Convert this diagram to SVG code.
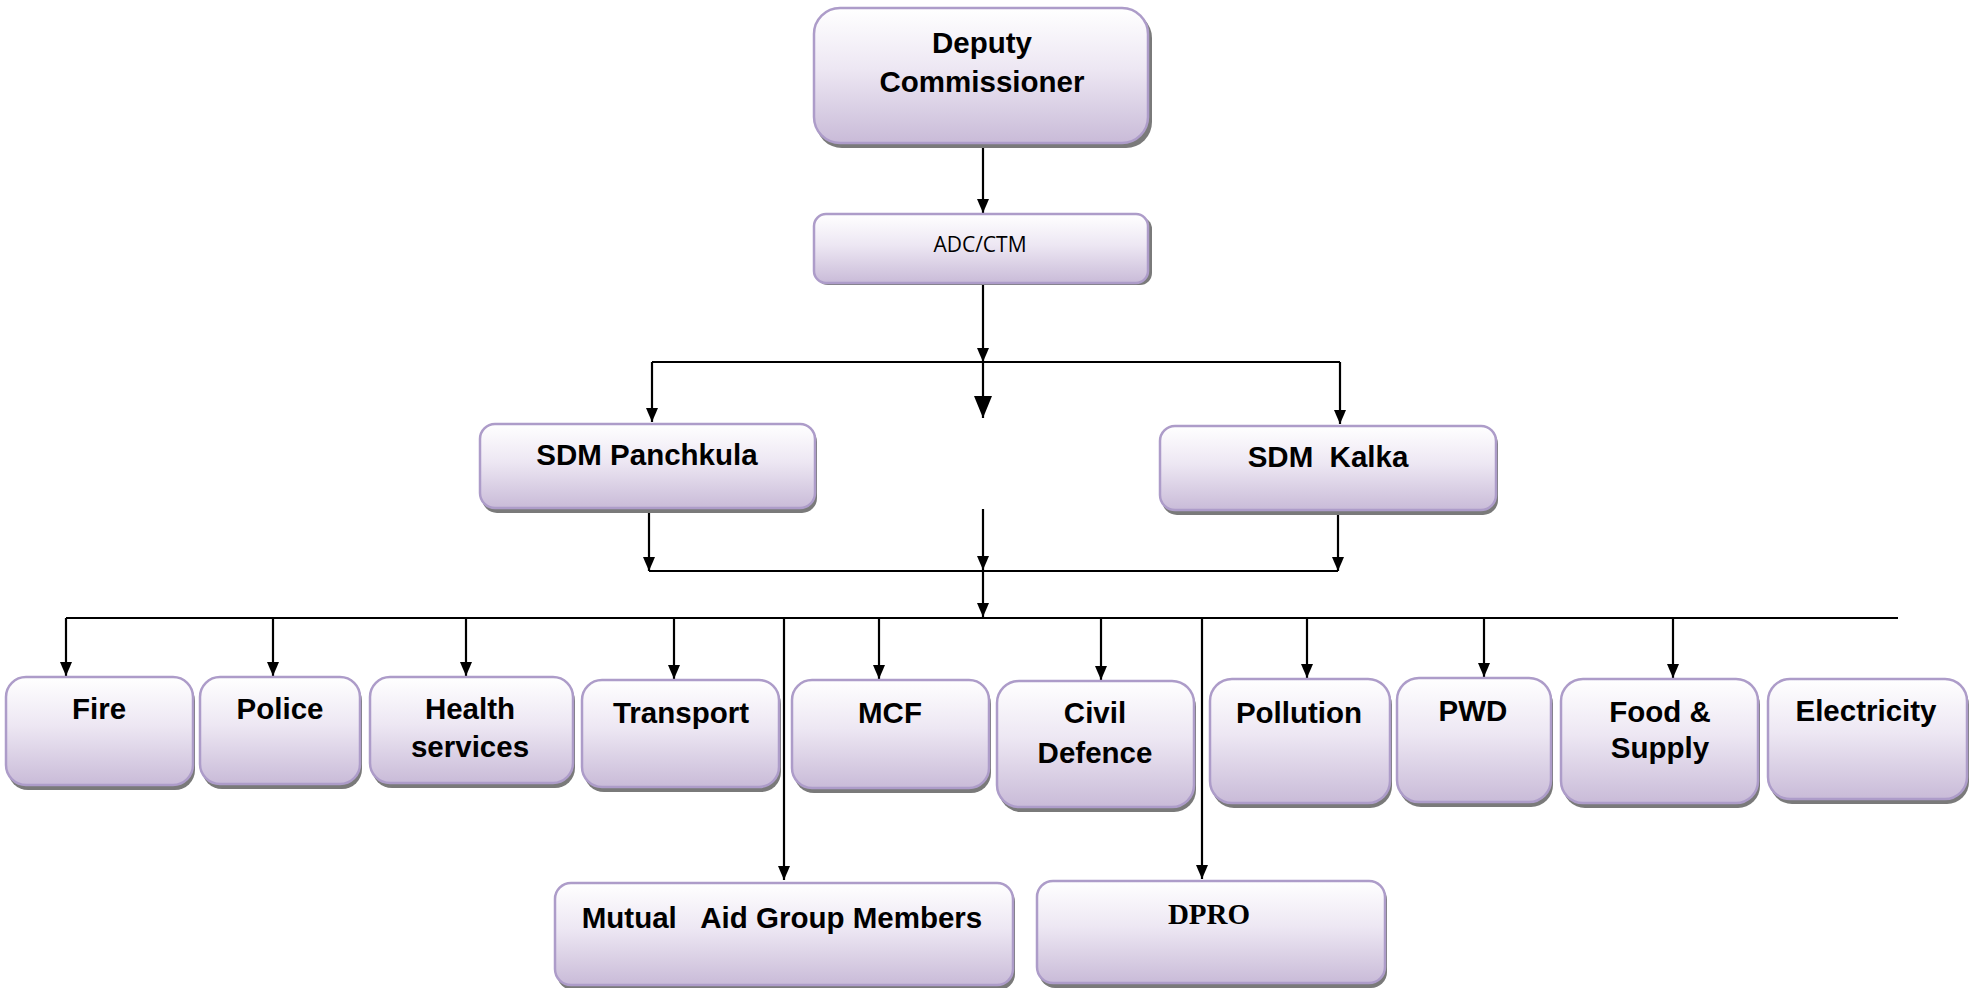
<svg xmlns="http://www.w3.org/2000/svg" width="1979" height="988" viewBox="0 0 1979 988">
<defs>
<linearGradient id="g" x1="0" y1="0" x2="0" y2="1">
<stop offset="0" stop-color="#ffffff"/>
<stop offset="0.45" stop-color="#ede7f3"/>
<stop offset="1" stop-color="#c9bbd8"/>
</linearGradient>
<marker id="a" markerWidth="12" markerHeight="14" refX="6" refY="14" markerUnits="userSpaceOnUse" viewBox="0 0 12 14">
<path d="M0,0 L12,0 L6,14 Z" fill="#000"/>
</marker>
<marker id="ab" markerWidth="18" markerHeight="22" refX="9" refY="22" markerUnits="userSpaceOnUse" viewBox="0 0 18 22">
<path d="M0,0 L18,0 L9,22 Z" fill="#000"/>
</marker>
</defs>
<style>
.box{fill:url(#g);stroke:#ad9cc9;stroke-width:2.5}
.sh{fill:#7a7a7a}
.t{font-family:"Liberation Sans",Arial,sans-serif;font-weight:bold;font-size:29.5px;text-anchor:middle;fill:#000}
.c{stroke:#000;stroke-width:2.2;fill:none}
.ar{marker-end:url(#a)}
</style>
<rect width="1979" height="988" fill="#fff"/>
<g id="connectors">
<line class="c ar" x1="983" y1="143" x2="983" y2="213"/>
<line class="c ar" x1="983" y1="283" x2="983" y2="362"/>
<line class="c" x1="652" y1="362" x2="1340" y2="362"/>
<line class="c ar" x1="652" y1="362" x2="652" y2="422"/>
<line class="c ar" x1="1340" y1="362" x2="1340" y2="424"/>
<line class="c" x1="983" y1="362" x2="983" y2="418" marker-end="url(#ab)"/>
<line class="c ar" x1="983" y1="509" x2="983" y2="570"/>
<line class="c ar" x1="649" y1="508" x2="649" y2="571"/>
<line class="c ar" x1="1338" y1="510" x2="1338" y2="571"/>
<line class="c" x1="649" y1="571" x2="1338" y2="571"/>
<line class="c ar" x1="983" y1="571" x2="983" y2="617"/>
<line class="c" x1="66" y1="618" x2="1898" y2="618"/>
<line class="c ar" x1="66" y1="618" x2="66" y2="676"/>
<line class="c ar" x1="273" y1="618" x2="273" y2="676"/>
<line class="c ar" x1="466" y1="618" x2="466" y2="676"/>
<line class="c ar" x1="674" y1="618" x2="674" y2="679"/>
<line class="c ar" x1="879" y1="618" x2="879" y2="679"/>
<line class="c ar" x1="1101" y1="618" x2="1101" y2="680"/>
<line class="c ar" x1="1307" y1="618" x2="1307" y2="678"/>
<line class="c ar" x1="1484" y1="618" x2="1484" y2="677"/>
<line class="c ar" x1="1673" y1="618" x2="1673" y2="678"/>
<line class="c ar" x1="784" y1="618" x2="784" y2="880"/>
<line class="c ar" x1="1202" y1="618" x2="1202" y2="879"/>
</g>
<g id="n-dc">
<rect class="sh" x="816" y="12" width="336" height="136" rx="26"/>
<rect class="box" x="814" y="8" width="334" height="135" rx="26"/>
<text class="t" x="982" y="53">Deputy</text>
<text class="t" x="982" y="92">Commissioner</text>
</g>
<g id="n-adc">
<rect class="sh" x="816" y="217" width="336" height="68" rx="12"/>
<rect class="box" x="814" y="214" width="334" height="69" rx="12"/>
<text x="980" y="252" text-anchor="middle" font-family="'Open Sans','Liberation Sans',sans-serif" font-size="21" fill="#000">ADC/CTM</text>
</g>
<g id="n-sdmp">
<rect class="sh" x="482" y="427" width="335" height="86" rx="15"/>
<rect class="box" x="480" y="424" width="335" height="84" rx="15"/>
<text class="t" x="647" y="465">SDM Panchkula</text>
</g>
<g id="n-sdmk">
<rect class="sh" x="1162" y="429" width="336" height="86" rx="15"/>
<rect class="box" x="1160" y="426" width="336" height="84" rx="15"/>
<text class="t" x="1328" y="467" xml:space="preserve">SDM  Kalka</text>
</g>
<g id="n-fire">
<rect class="sh" x="8" y="681" width="187" height="109" rx="20"/>
<rect class="box" x="6" y="677" width="187" height="108" rx="20"/>
<text class="t" x="99" y="719">Fire</text>
</g>
<g id="n-police">
<rect class="sh" x="202" y="681" width="160" height="108" rx="20"/>
<rect class="box" x="200" y="677" width="160" height="107" rx="20"/>
<text class="t" x="280" y="719">Police</text>
</g>
<g id="n-health">
<rect class="sh" x="372" y="681" width="203" height="107" rx="20"/>
<rect class="box" x="370" y="677" width="203" height="106" rx="20"/>
<text class="t" x="470" y="719">Health</text>
<text class="t" x="470" y="757">services</text>
</g>
<g id="n-transport">
<rect class="sh" x="584" y="684" width="197" height="108" rx="20"/>
<rect class="box" x="582" y="680" width="197" height="107" rx="20"/>
<text class="t" x="681" y="723">Transport</text>
</g>
<g id="n-mcf">
<rect class="sh" x="794" y="684" width="197" height="109" rx="20"/>
<rect class="box" x="792" y="680" width="197" height="108" rx="20"/>
<text class="t" x="890" y="723">MCF</text>
</g>
<g id="n-civil">
<rect class="sh" x="999" y="685" width="197" height="127" rx="22"/>
<rect class="box" x="997" y="681" width="197" height="126" rx="22"/>
<text class="t" x="1095" y="723">Civil</text>
<text class="t" x="1095" y="763">Defence</text>
</g>
<g id="n-pollution">
<rect class="sh" x="1212" y="683" width="180" height="125" rx="22"/>
<rect class="box" x="1210" y="679" width="180" height="124" rx="22"/>
<text class="t" x="1299" y="723">Pollution</text>
</g>
<g id="n-pwd">
<rect class="sh" x="1399" y="682" width="154" height="125" rx="22"/>
<rect class="box" x="1397" y="678" width="154" height="124" rx="22"/>
<text class="t" x="1473" y="721">PWD</text>
</g>
<g id="n-food">
<rect class="sh" x="1563" y="683" width="197" height="125" rx="22"/>
<rect class="box" x="1561" y="679" width="197" height="124" rx="22"/>
<text class="t" x="1660" y="722">Food &amp;</text>
<text class="t" x="1660" y="758">Supply</text>
</g>
<g id="n-electricity">
<rect class="sh" x="1770" y="683" width="199" height="121" rx="22"/>
<rect class="box" x="1768" y="679" width="199" height="120" rx="22"/>
<text class="t" x="1866" y="721">Electricity</text>
</g>
<g id="n-mutual">
<rect class="sh" x="557" y="886" width="458" height="104" rx="16"/>
<rect class="box" x="555" y="883" width="458" height="102" rx="16"/>
<text class="t" x="782" y="928" xml:space="preserve">Mutual   Aid Group Members</text>
</g>
<g id="n-dpro">
<rect class="sh" x="1039" y="884" width="348" height="104" rx="16"/>
<rect class="box" x="1037" y="881" width="348" height="102" rx="16"/>
<text x="1209" y="924" text-anchor="middle" font-family="'Liberation Serif','Times New Roman',serif" font-weight="bold" font-size="29" fill="#000">DPRO</text>
</g>
</svg>
